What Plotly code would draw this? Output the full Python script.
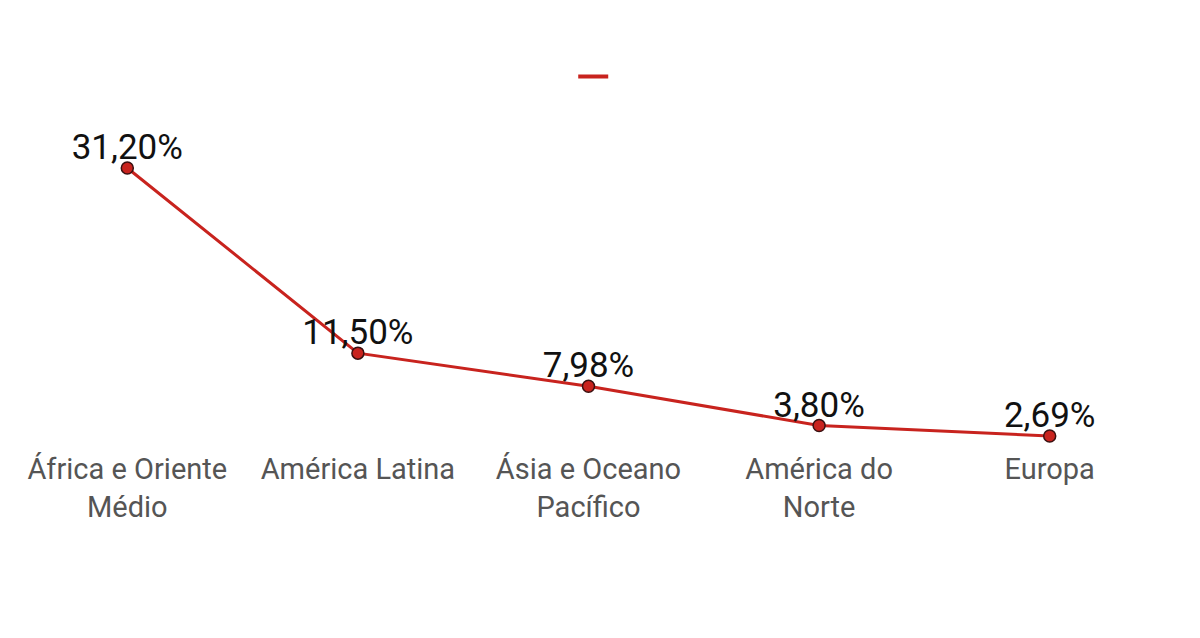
import plotly.graph_objects as go

# regiões e percentuais
regioes = ["África e Oriente<br>Médio", "América Latina", "Ásia e Oceano<br>Pacífico",
           "América do<br>Norte", "Europa"]
percentuais = [31.20, 11.50, 7.98, 3.80, 2.69]
rotulos = ["31,20%", "11,50%", "7,98%", "3,80%", "2,69%"]

vermelho = "#c8231e"

fig = go.Figure()
fig.add_trace(go.Scatter(
    x=regioes, y=percentuais, mode="lines+markers", showlegend=False,
    line=dict(color=vermelho, width=3),
    marker=dict(size=12, color=vermelho, line=dict(color="#3a1010", width=1.5)),
    cliponaxis=False,
))
# rótulos de valor (sem marcador, ficam colados ao ponto)
fig.add_trace(go.Scatter(
    x=regioes, y=percentuais, mode="text", showlegend=False,
    text=rotulos, textposition="top center",
    textfont=dict(family="Roboto", size=35, color="#111111"),
    cliponaxis=False, hoverinfo="skip",
))
# item de legenda só com a linha
fig.add_trace(go.Scatter(
    x=[None], y=[None], mode="lines", name=" ",
    line=dict(color=vermelho, width=4),
))

fig.update_xaxes(showgrid=False, showline=False, zeroline=False, ticks="",
                 tickfont=dict(family="Roboto", size=29, color="#555555"),
                 range=[-0.5, 4.5])
fig.update_yaxes(visible=False, range=[1.3, 36.2])
fig.update_layout(
    width=1200, height=638,
    margin=dict(l=4, r=43, t=113, b=197),
    plot_bgcolor="white", paper_bgcolor="white",
    font=dict(family="Roboto"),
    showlegend=True,
    legend=dict(orientation="h", x=0.508, xanchor="center", y=1 - 69 / 638,
                yanchor="middle", yref="container", font=dict(size=14)),
)

fig.write_html("out.html")
